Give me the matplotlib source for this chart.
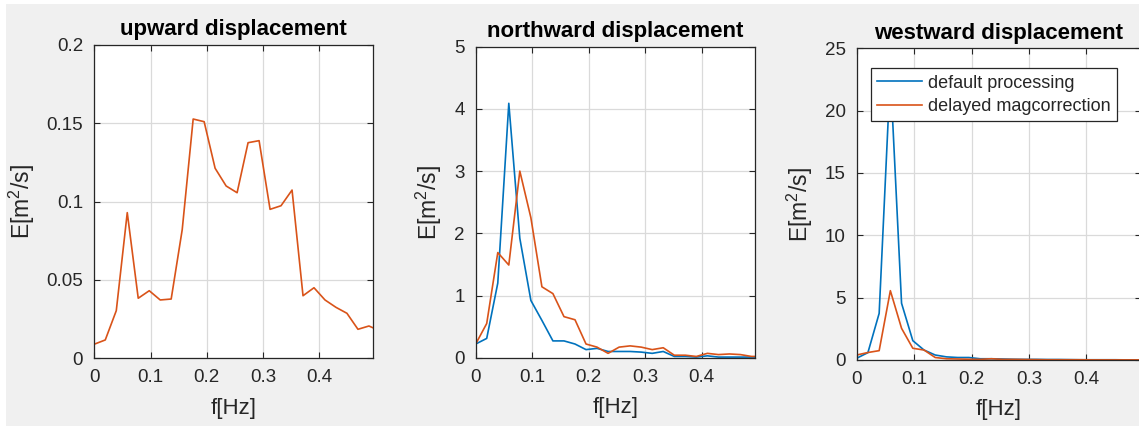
import matplotlib
matplotlib.use("Agg")
import matplotlib.pyplot as plt
from matplotlib.patches import Rectangle

plt.rcParams['font.family'] = ['Liberation Sans', 'DejaVu Sans']
plt.rcParams['mathtext.fontset'] = 'custom'
plt.rcParams['mathtext.rm'] = 'Liberation Sans'
plt.rcParams['mathtext.it'] = 'Liberation Sans'

# ---------------- data ----------------
freq = [0.0, 0.0195, 0.0391, 0.0586, 0.0781, 0.0977, 0.1172, 0.1367, 0.1563,
        0.1758, 0.1953, 0.2148, 0.2344, 0.2539, 0.2734, 0.2930, 0.3125, 0.3320,
        0.3516, 0.3711, 0.3906, 0.4102, 0.4297, 0.4492, 0.4688, 0.4883, 0.5078]

up_delayed = [0.009, 0.0117, 0.0304, 0.0929, 0.0383, 0.0431, 0.0372, 0.0378, 0.082,
              0.1526, 0.1509, 0.1212, 0.1099, 0.1056, 0.1375, 0.1388, 0.095, 0.0973,
              0.1073, 0.0399, 0.045, 0.0372, 0.0325, 0.0287, 0.0185, 0.0206, 0.0175]

north_default = [0.22, 0.31, 1.20, 4.09, 1.92, 0.92, 0.60, 0.27, 0.27, 0.22, 0.13, 0.15,
                 0.10, 0.10, 0.10, 0.09, 0.07, 0.10, 0.02, 0.02, 0.01, 0.03, 0.01, 0.01,
                 0.01, 0.01, 0.01]
north_delayed = [0.22, 0.55, 1.69, 1.49, 3.00, 2.25, 1.14, 1.03, 0.66, 0.61, 0.22, 0.17,
                 0.07, 0.17, 0.19, 0.17, 0.13, 0.16, 0.04, 0.04, 0.02, 0.07, 0.05, 0.06,
                 0.05, 0.02, 0.02]

west_default = [0.14, 0.59, 3.74, 23.0, 4.55, 1.55, 0.80, 0.40, 0.25, 0.20, 0.20, 0.10,
                0.10, 0.08, 0.06, 0.05, 0.05, 0.04, 0.04, 0.03, 0.02, 0.02, 0.02, 0.02,
                0.01, 0.01, 0.01]
west_delayed = [0.40, 0.60, 0.75, 5.56, 2.54, 0.94, 0.80, 0.20, 0.10, 0.08, 0.06, 0.05,
                0.10, 0.05, 0.05, 0.04, 0.03, 0.02, 0.02, 0.02, 0.02, 0.01, 0.01, 0.01,
                0.01, 0.01, 0.01]

titles = ['upward displacement', 'northward displacement', 'westward displacement']
xticks = [0, 0.1, 0.2, 0.3, 0.4]
xticklabels = ['0', '0.1', '0.2', '0.3', '0.4']
yticks_up = [0, 0.05, 0.1, 0.15, 0.2]
yticklabels_up = ['0', '0.05', '0.1', '0.15', '0.2']
yticks_north = [0, 1, 2, 3, 4, 5]
yticks_west = [0, 5, 10, 15, 20, 25]
legend_labels = ['default processing', 'delayed magcorrection']

# ---------------- style ----------------
BLUE = '#0072BD'
ORANGE = '#D95319'
DARK = '#262626'
BG = '#f0f0f0'

W, H = 1139, 426
fig = plt.figure(figsize=(W / 100, H / 100), dpi=100, facecolor=BG)

# thin white screenshot borders
fig.patches.append(Rectangle((0, 0), 6 / W, 1, transform=fig.transFigure,
                             facecolor='white', edgecolor='none', zorder=-10))
fig.patches.append(Rectangle((0, 1 - 4 / H), 1, 4 / H, transform=fig.transFigure,
                             facecolor='white', edgecolor='none', zorder=-10))

def px_axes(left, right, top, bottom):
    return fig.add_axes([left / W, 1 - bottom / H, (right - left) / W, (bottom - top) / H])

ax1 = px_axes(94.3, 372.7, 44.7, 358.3)
ax2 = px_axes(475.7, 755.3, 46.7, 357.7)
ax3 = px_axes(856.7, 1141.0, 48.3, 360.0)

def style(ax, title, yticks, yticklabels, ylim):
    ax.set_facecolor('white')
    ax.set_xlim(0, 0.495)
    ax.set_ylim(*ylim)
    ax.set_xticks(xticks)
    ax.set_xticklabels(xticklabels)
    ax.set_yticks(yticks)
    ax.set_yticklabels(yticklabels)
    ax.grid(True, color='#dadada', linewidth=0.9)
    ax.set_axisbelow(True)
    for s in ax.spines.values():
        s.set_color(DARK)
        s.set_linewidth(0.9)
    ax.tick_params(direction='in', length=4, width=0.8, color=DARK,
                   top=True, right=True, labelsize=13.5, labelcolor=DARK, pad=8)
    ax.set_title(title, fontsize=16, fontweight='bold', color='black', pad=7)
    ax.set_xlabel('f[Hz]', fontsize=16, color=DARK, labelpad=8)
    ax.set_ylabel(r'E[m$^{\mathregular{2}}$/s]', fontsize=16.5, color=DARK, labelpad=7)

# upward
ax1.plot(freq, up_delayed, color=ORANGE, linewidth=1.2)
style(ax1, titles[0], yticks_up, yticklabels_up, (0, 0.2))

# northward
ax2.plot(freq, north_default, color=BLUE, linewidth=1.2)
ax2.plot(freq, north_delayed, color=ORANGE, linewidth=1.2)
style(ax2, titles[1], yticks_north, [str(v) for v in yticks_north], (0, 5))

# westward
l1, = ax3.plot(freq, west_default, color=BLUE, linewidth=1.2)
l2, = ax3.plot(freq, west_delayed, color=ORANGE, linewidth=1.2)
style(ax3, titles[2], yticks_west, [str(v) for v in yticks_west], (0, 25))
leg = ax3.legend([l1, l2], legend_labels, loc='upper left',
                 bbox_to_anchor=(0.05, 0.936), borderaxespad=0,
                 fontsize=13, frameon=True, fancybox=False, framealpha=1,
                 edgecolor=DARK, handlelength=2.5, handletextpad=0.3,
                 borderpad=0.35, labelspacing=0.35)
leg.get_frame().set_linewidth(0.9)
for t in leg.get_texts():
    t.set_color(DARK)

fig.savefig('out.png', dpi=100, facecolor=BG)
